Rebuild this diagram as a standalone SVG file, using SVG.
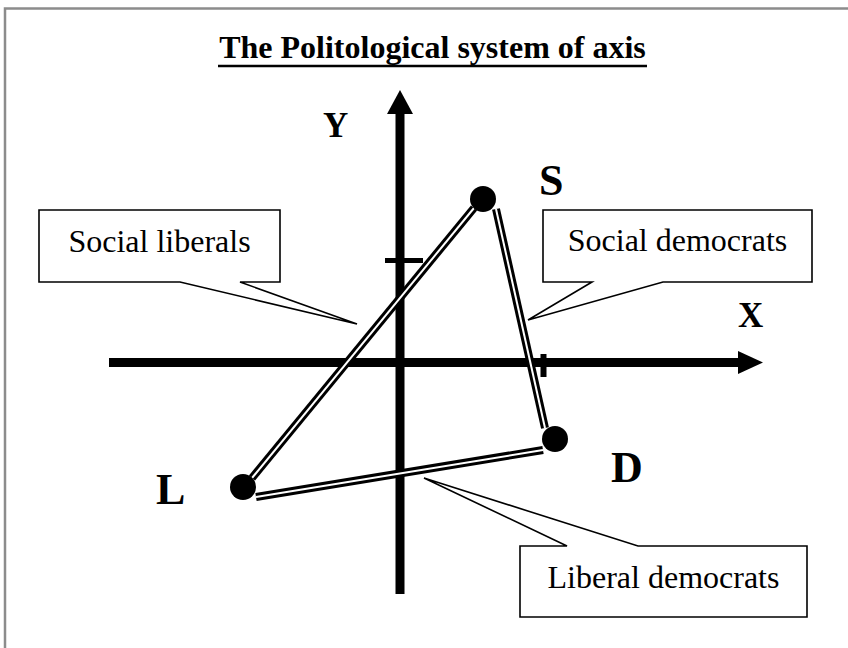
<svg xmlns="http://www.w3.org/2000/svg" width="848" height="648" viewBox="0 0 848 648">
<style>
.t{font-family:"Liberation Serif","Times New Roman",serif;fill:#000}
.lab{font-size:32px}
.big{font-size:44px;font-weight:bold}
.ax{font-size:35px;font-weight:bold}
.box{fill:#fff;stroke:#000;stroke-width:1.6;stroke-linejoin:miter}
.dblo{stroke:#000;stroke-width:8;fill:none}
.dbli{stroke:#fff;stroke-width:2;fill:none}
</style>
<rect x="0" y="0" width="848" height="648" fill="#fff"/>
<rect x="5" y="8.5" width="900" height="700" fill="none" stroke="#8c8c8c" stroke-width="2.5"/>
<g id="title">
<text class="t" x="432.5" y="58" text-anchor="middle" font-size="32" font-weight="bold">The Politological system of axis</text>
<line x1="218" y1="66" x2="647" y2="66" stroke="#000" stroke-width="2.5"/>
</g>
<g id="axes">
<line x1="109" y1="362.5" x2="740" y2="362.5" stroke="#000" stroke-width="9"/>
<polygon points="738,351 763,362.5 738,374" fill="#000"/>
<line x1="400" y1="594" x2="400" y2="112" stroke="#000" stroke-width="9"/>
<polygon points="387,114 400,90 413,114" fill="#000"/>
<line x1="385" y1="260.5" x2="423" y2="260.5" stroke="#000" stroke-width="5"/>
<line x1="543.5" y1="354" x2="543.5" y2="377" stroke="#000" stroke-width="6"/>
<text class="t ax" x="323" y="137" font-size="38">Y</text>
<text class="t ax" x="738" y="327">X</text>
</g>
<g id="connectors">
<line class="dblo" x1="252" y1="478" x2="474" y2="208"/>
<line class="dbli" x1="252" y1="478" x2="474" y2="208"/>
<line class="dblo" x1="496" y1="209" x2="545" y2="428"/>
<line class="dbli" x1="496" y1="209" x2="545" y2="428"/>
<line class="dblo" x1="256" y1="497" x2="543" y2="450"/>
<line class="dbli" x1="256" y1="497" x2="543" y2="450"/>
</g>
<g id="node-S">
<circle cx="483" cy="199" r="13" fill="#000"/>
<text class="t big" x="539" y="195">S</text>
</g>
<g id="node-D">
<circle cx="555" cy="439" r="13" fill="#000"/>
<text class="t big" x="611" y="482">D</text>
</g>
<g id="node-L">
<circle cx="243" cy="487" r="13" fill="#000"/>
<text class="t big" x="156" y="504">L</text>
</g>
<g id="callout-social-liberals">
<polygon class="box" points="39,210 280,210 280,282 240,282 357,324 180,282 39,282"/>
<text class="t lab" x="159.5" y="252" text-anchor="middle">Social liberals</text>
</g>
<g id="callout-social-democrats">
<polygon class="box" points="543,210 812,210 812,282 663,282 528,320 592,282 543,282"/>
<text class="t lab" x="677.5" y="251" text-anchor="middle">Social democrats</text>
</g>
<g id="callout-liberal-democrats">
<polygon class="box" points="520,546 567,546 424,478 638,546 807,546 807,617 520,617"/>
<text class="t lab" x="663.5" y="588" text-anchor="middle">Liberal democrats</text>
</g>
</svg>
